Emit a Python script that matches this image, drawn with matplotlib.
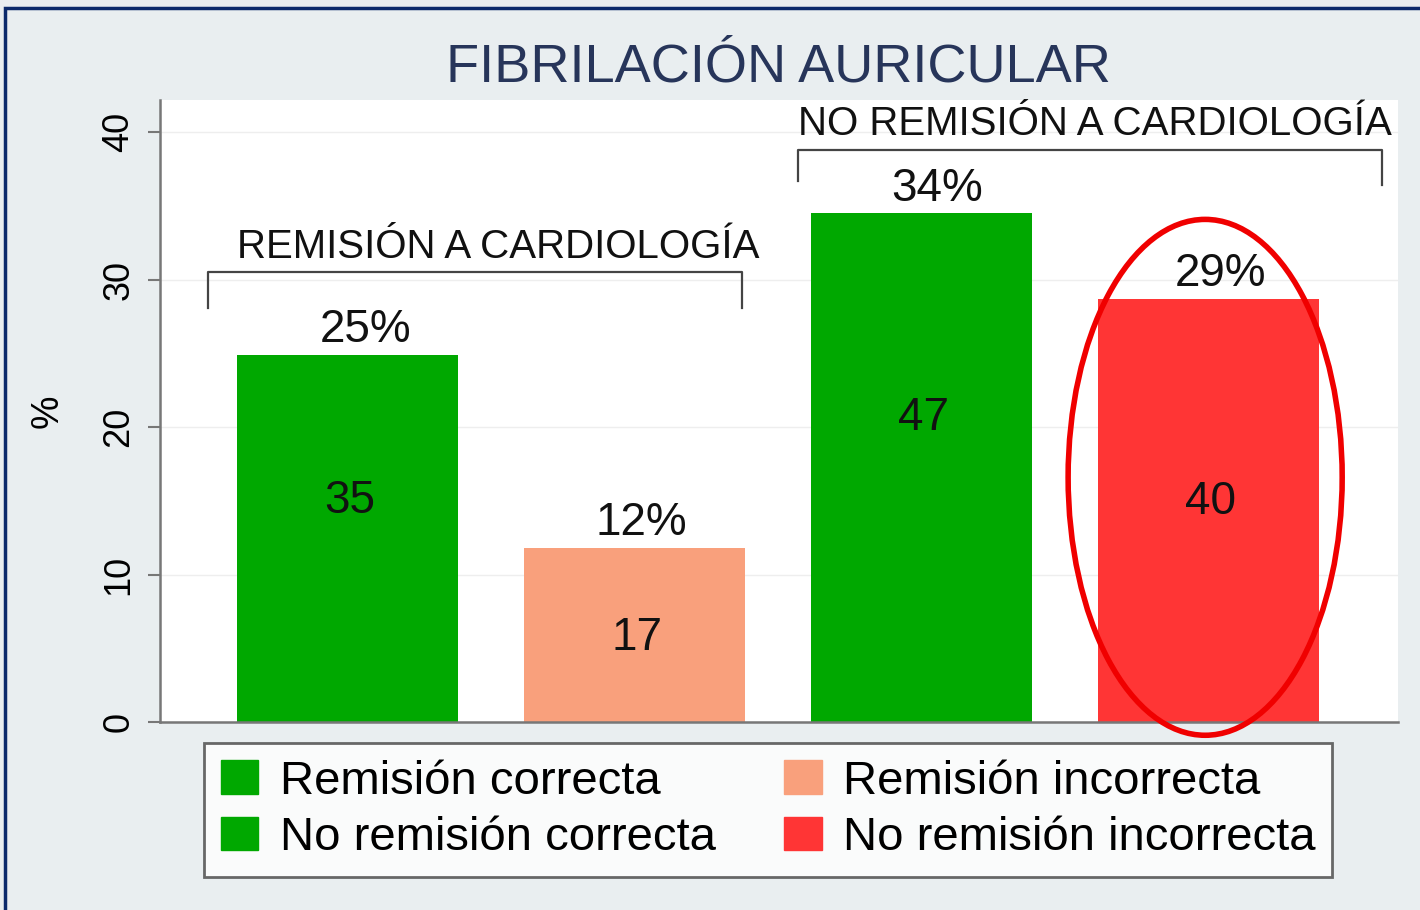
import matplotlib.pyplot as plt
from matplotlib.patches import Ellipse, Rectangle, Patch
import numpy as np

plt.rcParams['font.family'] = ['Liberation Sans', 'DejaVu Sans']

# datos
categorias = ['Remisión correcta', 'Remisión incorrecta', 'No remisión correcta', 'No remisión incorrecta']
porcentajes = [24.9, 11.8, 34.5, 28.7]
etiquetas_pct = ['25%', '12%', '34%', '29%']
n_casos = [35, 17, 47, 40]
y_casos = [15.0, 5.7, 20.6, 14.9]
colores = ['#00a800', '#f9a07c', '#00a800', '#ff3535']
grupos = ['REMISIÓN A CARDIOLOGÍA', 'NO REMISIÓN A CARDIOLOGÍA']
yticks = [0, 10, 20, 30, 40]

W, H = 1420, 910
fig = plt.figure(figsize=(W / 100, H / 100), dpi=100, facecolor='#e9eef0')
ax = fig.add_axes([160 / W, 1 - 722 / H, (1398 - 160) / W, (722 - 100) / H])
ax.set_facecolor('white')

x = np.arange(len(categorias))
ax.bar(x, porcentajes, width=0.77, color=colores, zorder=2)

# etiquetas algo desplazadas a la derecha, como en el original
dx_pct = [0.066, 0.024, 0.055, 0.045]
for xi, p, lab, d in zip(x, porcentajes, etiquetas_pct, dx_pct):
    ax.text(xi + d, p + 0.2, lab, ha='center', va='bottom', fontsize=33, color='#111111')
for xi, yc, n in zip(x, y_casos, n_casos):
    ax.text(xi + 0.01, yc, str(n), ha='center', va='center', fontsize=33, color='#111111')

# corchetes de grupo
corchetes = [(-0.485, 1.375, 30.5, 28.1, 28.1), (1.57, 3.605, 38.8, 36.7, 36.4)]
dx_grupo = [0.08, 0.02]
for (x0, x1, yh, yl0, yl1), g, d in zip(corchetes, grupos, dx_grupo):
    ax.plot([x0, x0, x1, x1], [yl0, yh, yh, yl1], color='#444444', lw=1.6, zorder=3)
    ax.text((x0 + x1) / 2 + d, yh + 0.45, g, ha='center', va='bottom', fontsize=29, color='#111111')

# elipse roja
ax.add_patch(Ellipse((2.99, 16.6), 0.955, 35.0, fill=False, edgecolor='#f00000',
                     lw=4, clip_on=False, zorder=5))

ax.set_xlim(-0.652, 3.662)
ax.set_ylim(0, 42.2)
ax.set_xticks([])
ax.set_yticks(yticks)
ax.set_yticklabels([str(t) for t in yticks], rotation=90, va='center', fontsize=26)
ax.tick_params(axis='y', length=9, width=1.5, color='#777777', pad=8)
ax.grid(axis='y', color='#eeeeee', lw=1, zorder=0)
for s in ['top', 'right']:
    ax.spines[s].set_visible(False)
for s in ['left', 'bottom']:
    ax.spines[s].set_color('#777777')
    ax.spines[s].set_linewidth(1.8)
ax.set_ylabel('%', fontsize=27, labelpad=26)

fig.text(778 / W, 1 - 68 / H, 'FIBRILACIÓN AURICULAR', ha='center', va='center',
         fontsize=39, color='#27355a')

handles = [Patch(color=c) for c in colores]
orden = [0, 2, 1, 3]
leg = fig.legend([handles[i] for i in orden], [categorias[i] for i in orden],
                 loc='upper left', bbox_to_anchor=(204 / W, 1 - 743 / H), ncol=2,
                 fontsize=34, frameon=True, fancybox=False, edgecolor='#444444',
                 handlelength=0.8, handleheight=0.7, handletextpad=0.45,
                 columnspacing=1.45, labelspacing=0.27, borderpad=0.35, borderaxespad=0)
leg.get_frame().set_linewidth(2)

# marco exterior azul
fig.patches.append(Rectangle((5 / W, -0.02), 1.0, 1 - 8 / H + 0.02, transform=fig.transFigure,
                             fill=False, edgecolor='#0b2a6b', lw=2.5))

fig.savefig('out.png', dpi=100, facecolor=fig.get_facecolor())
